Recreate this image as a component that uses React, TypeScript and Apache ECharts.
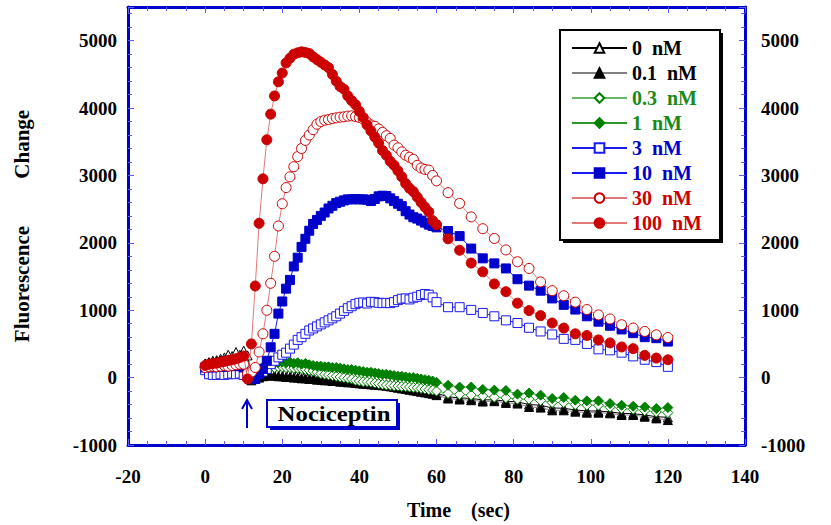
import React, { useEffect, useRef } from "react";
import * as echarts from "echarts";

// Time (sec): dense sampling 0–59 s, then every 3 s to 120 s
const times = [
  0, 1, 2, 3, 4, 5, 6, 7, 8, 9, 10, 11, 12, 13, 14, 15, 16, 17, 18, 19,
  20, 21, 22, 23, 24, 25, 26, 27, 28, 29, 30, 31, 32, 33, 34, 35, 36, 37, 38, 39,
  40, 41, 42, 43, 44, 45, 46, 47, 48, 49, 50, 51, 52, 53, 54, 55, 56, 57, 58, 59,
  60, 63, 66, 69, 72, 75, 78, 81, 84, 87, 90, 93, 96, 99, 102, 105, 108, 111, 114, 117, 120,
];

const nM0 = [
  200, 230, 250, 260, 280, 300, 340, 320, 380, 340, 400, 330, 60, 50, 80, 100, 110, 110, 110, 100,
  100, 90, 80, 70, 60, 50, 40, 30, 30, 20, 10, 10, 0, -10, -20, -25, -30, -40, -45, -50,
  -60, -65, -70, -75, -80, -85, -90, -100, -105, -110, -120, -130, -140, -150, -160, -170, -180, -190, -200, -210,
  -230, -285, -300, -310, -330, -330, -350, -360, -400, -410, -450, -455, -480, -495, -495, -510, -530, -535, -555, -580, -590,
];

const nM01 = [
  210, 220, 230, 240, 250, 260, 270, 270, 280, 290, 300, 20, -40, -20, 0, 20, 30, 30, 30, 20,
  20, 10, 10, 0, 0, -10, -10, -20, -20, -30, -30, -40, -40, -50, -50, -60, -60, -70, -70, -80,
  -85, -90, -95, -100, -105, -110, -115, -120, -130, -140, -150, -160, -170, -180, -190, -200, -210, -220, -230, -240,
  -260, -310, -325, -335, -355, -350, -375, -385, -435, -445, -485, -485, -505, -520, -520, -530, -555, -555, -580, -605, -630,
];

const nM03 = [
  150, 160, 170, 170, 180, 190, 190, 200, 210, 210, 220, 20, -10, 30, 80, 120, 140, 150, 150, 160,
  160, 150, 150, 140, 140, 130, 120, 110, 100, 80, 60, 50, 40, 30, 20, 10, 0, -10, -20, -40,
  -50, -60, -60, -70, -80, -90, -100, -110, -115, -120, -125, -130, -135, -140, -145, -150, -160, -170, -180, -185,
  -200, -235, -250, -260, -275, -290, -300, -320, -320, -340, -370, -370, -400, -410, -410, -440, -460, -470, -490, -510, -520,
];

const nM1 = [
  170, 180, 190, 200, 200, 210, 220, 230, 230, 240, 240, 60, 20, 60, 120, 160, 190, 200, 210, 220,
  230, 220, 230, 210, 220, 200, 210, 190, 180, 170, 170, 160, 160, 150, 150, 140, 130, 120, 120, 110,
  100, 90, 80, 80, 70, 60, 50, 50, 40, 30, 20, 20, 10, 0, 0, -10, -20, -30, -40, -50,
  -70, -115, -140, -140, -175, -185, -190, -245, -230, -260, -310, -295, -335, -345, -345, -385, -410, -425, -435, -460, -445,
];

const nM3 = [
  110, 50, 40, 40, 50, 40, 50, 60, 50, 60, 40, 30, 20, 40, 60, 90, 130, 200, 250, 300,
  340, 370, 430, 490, 560, 600, 650, 700, 730, 760, 790, 820, 850, 880, 910, 950, 990, 1030, 1060, 1090,
  1110, 1115, 1100, 1125, 1120, 1110, 1105, 1110, 1105, 1120, 1150, 1170, 1175, 1160, 1185, 1200, 1225, 1240, 1230, 1190,
  1120, 1045, 1045, 1005, 960, 910, 850, 810, 740, 685, 640, 575, 560, 500, 420, 405, 370, 315, 265, 230, 160,
];

const nM10 = [
  150, 160, 150, 160, 170, 160, 170, 180, 170, 180, 150, 80, 0, -20, 50, 130, 250, 450, 650, 950,
  1130, 1320, 1450, 1650, 1780, 1940, 2060, 2180, 2280, 2340, 2400, 2450, 2510, 2550, 2590, 2610, 2630, 2645, 2645, 2650,
  2645, 2645, 2640, 2620, 2650, 2690, 2700, 2695, 2660, 2620, 2580, 2545, 2470, 2420, 2380, 2360, 2330, 2300, 2270, 2250,
  2230, 2175, 2100, 1915, 1770, 1695, 1620, 1460, 1365, 1290, 1175, 1080, 1010, 910, 830, 770, 715, 660, 600, 585, 535,
];

const nM30 = [
  150, 160, 170, 160, 170, 180, 170, 180, 190, 200, 200, 60, 80, 150, 380, 650, 1000, 1400, 1800, 2250,
  2580, 2820, 2980, 3130, 3280, 3400, 3520, 3600, 3680, 3760, 3800, 3820, 3830, 3845, 3855, 3865, 3870, 3880, 3885, 3875,
  3860, 3835, 3790, 3750, 3730, 3690, 3640, 3590, 3550, 3450, 3410, 3350, 3300, 3270, 3240, 3150, 3110, 3090, 3080, 3000,
  2920, 2745, 2585, 2385, 2210, 2065, 1895, 1720, 1620, 1420, 1290, 1215, 1120, 1010, 930, 870, 785, 735, 685, 635, 595,
];

const nM100 = [
  180, 200, 210, 215, 230, 240, 255, 265, 280, 300, 320, -20, 500, 1360, 2290, 2950, 3530, 3910, 4180, 4390,
  4520, 4670, 4740, 4800, 4820, 4835, 4825, 4810, 4760, 4720, 4680, 4640, 4600, 4500, 4400, 4320, 4280, 4180, 4110, 4050,
  3950, 3860, 3750, 3660, 3570, 3480, 3370, 3300, 3210, 3150, 3070, 2980, 2880, 2810, 2760, 2680, 2600, 2530, 2460, 2330,
  2270, 2060, 1890, 1700, 1570, 1390, 1275, 1105, 995, 920, 810, 735, 650, 625, 560, 515, 455, 430, 330, 290, 265,
];

const seriesNames = ["0  nM", "0.1  nM", "0.3  nM", "1  nM", "3  nM", "10  nM", "30  nM", "100  nM"];
const seriesValues = [nM0, nM01, nM03, nM1, nM3, nM10, nM30, nM100];

export default function App() {
  const ref = useRef<HTMLDivElement>(null);

  useEffect(() => {
    const chart = echarts.init(ref.current!, null, { renderer: "svg" });
    const font = "'Liberation Serif', 'DejaVu Serif', serif";
    const frame = "#0000cc";
    const tickColor = "#5c5cff";

    const styles = [
      { symbol: "triangle", fill: "#ffffff", border: "#000000", line: "#000000", text: "#000000", size: 9 },
      { symbol: "triangle", fill: "#000000", border: "#000000", line: "#808080", text: "#000000", size: 9 },
      { symbol: "diamond", fill: "#ffffff", border: "#008000", line: "#66b866", text: "#1a8a1a", size: 10 },
      { symbol: "diamond", fill: "#008000", border: "#008000", line: "#2a9a2a", text: "#1a8a1a", size: 10 },
      { symbol: "rect", fill: "#ffffff", border: "#1a1aee", line: "#1a1aee", text: "#0000cc", size: 9 },
      { symbol: "rect", fill: "#0000cc", border: "#0000cc", line: "#1a1aee", text: "#0000cc", size: 9 },
      { symbol: "circle", fill: "#ffffff", border: "#cc0000", line: "#e07a7a", text: "#cc0000", size: 10 },
      { symbol: "circle", fill: "#cc0000", border: "#cc0000", line: "#e07a7a", text: "#cc0000", size: 10 },
    ];

    const series = seriesNames.map((name, k) => ({
      name,
      type: "line",
      data: times.map((t, i) => [t, seriesValues[k][i]]),
      symbol: styles[k].symbol,
      symbolSize: styles[k].size,
      showSymbol: true,
      showAllSymbol: true,
      lineStyle: { color: styles[k].line, width: 1 },
      itemStyle: { color: styles[k].fill, borderColor: styles[k].border, borderWidth: 1 },
      emphasis: { disabled: true },
      z: 2 + k * 0.01,
    }));

    const plain = (v: number) => String(v);
    const labelStyle = { color: "#000", fontFamily: font, fontWeight: "bold", fontSize: 19, formatter: plain };
    const nameStyle = { color: "#000", fontFamily: font, fontWeight: "bold", fontSize: 20 };

    const xBase = {
      type: "value",
      min: -20,
      max: 140,
      interval: 20,
      axisLine: { show: true, onZero: false, lineStyle: { color: frame, width: 3 } },
      axisTick: { show: true, inside: true, length: 6, lineStyle: { color: tickColor, width: 1 } },
      minorTick: { show: true, splitNumber: 4, length: 4, lineStyle: { color: tickColor, width: 1 } },
      splitLine: { show: false },
      minorSplitLine: { show: false },
    };
    const yBase = {
      type: "value",
      min: -1000,
      max: 5500,
      interval: 1000,
      axisLine: { show: true, onZero: false, lineStyle: { color: frame, width: 3 } },
      axisTick: { show: true, inside: true, length: 6, lineStyle: { color: tickColor, width: 1 } },
      minorTick: { show: true, splitNumber: 5, length: 4, lineStyle: { color: tickColor, width: 1 } },
      splitLine: { show: false },
      minorSplitLine: { show: false },
    };

    chart.setOption({
      animation: false,
      backgroundColor: "#ffffff",
      grid: { left: 128, right: 86, top: 7, bottom: 78, containLabel: false },
      xAxis: [
        {
          ...xBase,
          position: "bottom",
          axisLabel: { ...labelStyle, margin: 22 },
          name: "Time    (sec)",
          nameLocation: "middle",
          nameGap: 55,
          nameTextStyle: { ...nameStyle, padding: [0, 0, 0, 44] },
        },
        { ...xBase, position: "top", axisLabel: { show: false } },
      ],
      yAxis: [
        {
          ...yBase,
          position: "left",
          axisLabel: { ...labelStyle, margin: 11, showMaxLabel: false },
          name: "Fluorescence         Change",
          nameLocation: "middle",
          nameGap: 96,
          nameRotate: 90,
          nameTextStyle: { ...nameStyle, fontSize: 21 },
        },
        {
          ...yBase,
          position: "right",
          axisLabel: { ...labelStyle, margin: 16, showMaxLabel: false },
        },
      ],
      legend: {
        orient: "vertical",
        left: 571,
        top: 38,
        padding: 0,
        itemWidth: 55,
        itemHeight: 12,
        itemGap: 5,
        selectedMode: false,
        textStyle: { fontFamily: font, fontWeight: "bold", fontSize: 20, lineHeight: 20 },
        data: seriesNames.map((name, k) => ({ name, textStyle: { color: styles[k].text } })),
      },
      graphic: [
        { type: "rect", shape: { x: 563, y: 33, width: 160, height: 210 }, style: { fill: "#000" }, silent: true },
        {
          type: "rect",
          shape: { x: 560, y: 30, width: 160, height: 210 },
          style: { fill: "#fff", stroke: "#000", lineWidth: 2 },
          silent: true,
        },
        { type: "rect", shape: { x: 270, y: 403, width: 130, height: 27 }, style: { fill: frame }, silent: true },
        {
          type: "rect",
          shape: { x: 267, y: 400, width: 130, height: 27 },
          style: { fill: "#fff", stroke: frame, lineWidth: 2 },
          silent: true,
        },
        {
          type: "text",
          x: 334,
          y: 414,
          scaleX: 1.18,
          style: {
            text: "Nociceptin",
            fill: "#000",
            fontFamily: font,
            fontWeight: "bold",
            fontSize: 21,
            align: "center",
            verticalAlign: "middle",
          },
          silent: true,
        },
        {
          type: "line",
          shape: { x1: 247, y1: 428, x2: 247, y2: 401 },
          style: { stroke: frame, lineWidth: 2 },
          silent: true,
        },
        {
          type: "polyline",
          shape: { points: [[242, 409], [247, 400], [252, 409]] },
          style: { stroke: frame, lineWidth: 2, fill: null },
          silent: true,
        },
      ],
      series,
    });

    return () => chart.dispose();
  }, []);

  return (
    <div
      ref={ref}
      style={{ position: "fixed", left: 0, top: 0, width: 831, height: 525 }}
    />
  );
}
